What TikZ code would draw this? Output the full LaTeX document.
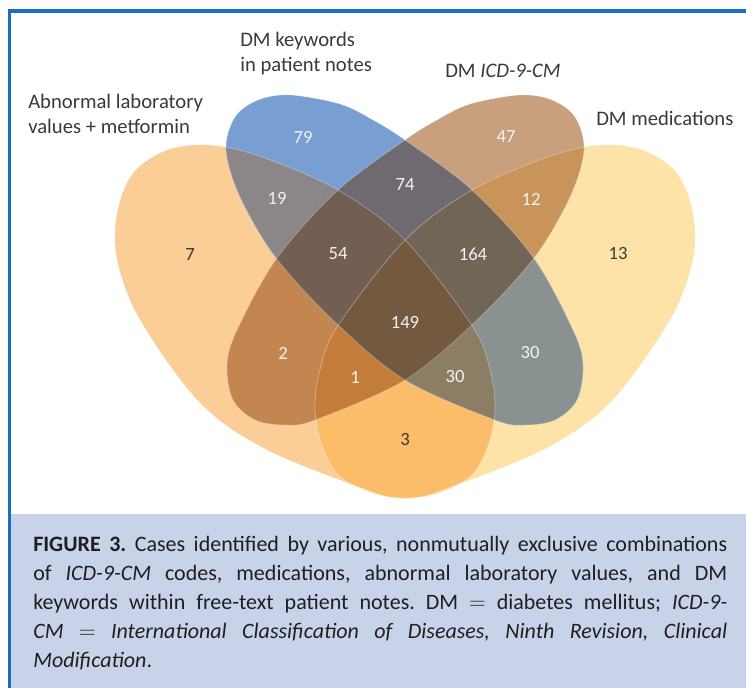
\documentclass[tikz,border=0pt]{standalone}
\usepackage{fontspec}
\setmainfont{Carlito}

\definecolor{frameblue}{HTML}{1670BE}
\definecolor{capblue}{HTML}{C8D3EA}
\definecolor{textgray}{HTML}{3A3A3A}
\definecolor{numwhite}{HTML}{F2F2F2}
% single sets
\definecolor{colA}{HTML}{FBCD97}
\definecolor{colB}{HTML}{799FD2}
\definecolor{colC}{HTML}{C9A07E}
\definecolor{colD}{HTML}{FDE3A8}
% pairs
\definecolor{colAB}{HTML}{8B8687}
\definecolor{colAC}{HTML}{C38651}
\definecolor{colAD}{HTML}{FBBD69}
\definecolor{colBC}{HTML}{6F6971}
\definecolor{colBD}{HTML}{899290}
\definecolor{colCD}{HTML}{C99459}
% triples and all four
\definecolor{colABC}{HTML}{735F52}
\definecolor{colABD}{HTML}{8B7E65}
\definecolor{colACD}{HTML}{C47C3B}
\definecolor{colBCD}{HTML}{716555}
\definecolor{colABCD}{HTML}{73593F}

\tikzset{
  num/.style={text=numwhite, font=\fontsize{14}{14}\selectfont, inner sep=0pt},
  numdark/.style={num, text=textgray},
  setlabel/.style={anchor=north west, align=left, inner sep=0pt, text=textgray,
    font=\fontsize{15.5}{18.5}\selectfont},
  captext/.style={anchor=north west, text width=520.5pt, align=justify, inner sep=0pt,
    text=black!88, font=\fontsize{16.5}{21.75}\selectfont},
  rim/.style={white, opacity=0.35, line width=0.5pt}
}

% the four egg shaped sets (coordinates in pixels)
\def\labshape{plot[smooth cycle, tension=0.55] coordinates {(210,145) (262,157) (338,190) (405,240) (473,327) (490,370) (495,405) (490,440) (472,475) (435,494) (398,498) (367,490) (267,450) (200,403) (140,320) (117,260) (117,213) (133,173) (167,150)}}
\def\kwshape{plot[smooth cycle, tension=0.55] coordinates {(290,95) (340,104) (373,120) (405,140) (472,190) (533,257) (573,330) (583,365) (577,400) (555,420) (525,425) (495,420) (405,380) (335,322) (276,258) (240,197) (226,150) (235,117) (258,100)}}
\def\icdshape{plot[smooth cycle, tension=0.55] coordinates {(520,95) (470,104) (437,120) (405,140) (338,190) (277,258) (237,330) (227,365) (233,400) (255,420) (285,425) (315,420) (405,380) (475,322) (534,258) (570,197) (584,150) (575,117) (552,100)}}
\def\medshape{plot[smooth cycle, tension=0.55] coordinates {(600,145) (548,157) (472,190) (405,240) (337,327) (320,370) (315,405) (320,440) (338,475) (375,494) (412,498) (443,490) (543,450) (610,403) (670,320) (693,260) (693,213) (677,173) (643,150)}}

\begin{document}
\begin{tikzpicture}[x=0.75pt, y=-0.75pt]

    % Fix the page size to the reference
    \useasboundingbox (0,0) rectangle (746,688);

    % Caption background and the blue frame
    \fill[capblue] (11,514) rectangle (746,688);
    \draw[frameblue, line width=2.6pt] (9.5,688) -- (9.5,11) -- (746,11);

    % Single sets
    \fill[colA] \labshape;
    \fill[colD] \medshape;
    \fill[colB] \kwshape;
    \fill[colC] \icdshape;

    % Pairs
    \begin{scope}\clip \labshape; \fill[colAB] \kwshape; \end{scope}
    \begin{scope}\clip \labshape; \fill[colAC] \icdshape; \end{scope}
    \begin{scope}\clip \labshape; \fill[colAD] \medshape; \end{scope}
    \begin{scope}\clip \kwshape; \fill[colBC] \icdshape; \end{scope}
    \begin{scope}\clip \kwshape; \fill[colBD] \medshape; \end{scope}
    \begin{scope}\clip \icdshape; \fill[colCD] \medshape; \end{scope}

    % Triples
    \begin{scope}\clip \labshape; \clip \kwshape; \fill[colABC] \icdshape; \end{scope}
    \begin{scope}\clip \labshape; \clip \kwshape; \fill[colABD] \medshape; \end{scope}
    \begin{scope}\clip \labshape; \clip \icdshape; \fill[colACD] \medshape; \end{scope}
    \begin{scope}\clip \kwshape; \clip \icdshape; \fill[colBCD] \medshape; \end{scope}

    % All four
    \begin{scope}\clip \labshape; \clip \kwshape; \clip \icdshape; \fill[colABCD] \medshape; \end{scope}

    % Faint outlines between the regions
    \draw[rim] \labshape;
    \draw[rim] \kwshape;
    \draw[rim] \icdshape;
    \draw[rim] \medshape;

    % Set labels
    \node[setlabel] (lab) at (28,94) {Abnormal laboratory\\values + metformin};
    \node[setlabel] (kw) at (240,32) {DM keywords\\in patient notes};
    \node[setlabel] (icd) at (445,64) {DM \textit{ICD-9-CM}};
    \node[setlabel] (med) at (596,111) {DM medications};

    % Counts in each region
    \node[numdark] (n7) at (190,255) {7};
    \node[num] (n79) at (303,137) {79};
    \node[num] (n47) at (506,137) {47};
    \node[numdark] (n13) at (618,254) {13};
    \node[num] (n19) at (277,198) {19};
    \node[num] (n74) at (405,185) {74};
    \node[num] (n12) at (531,199) {12};
    \node[num] (n54) at (338,254) {54};
    \node[num] (n164) at (473,254) {164};
    \node[num] (n149) at (405,322) {149};
    \node[num] (n2) at (283,353) {2};
    \node[num] (n30r) at (530,353) {30};
    \node[num] (n1) at (355,377) {1};
    \node[num] (n30b) at (455,377) {30};
    \node[numdark] (n3) at (405,440) {3};

    % Caption
    \node[captext] (cap) at (33,536) {\frenchspacing\tolerance=10000\hbadness=10000
      \textbf{FIGURE 3.} Cases identified by various, nonmutually exclusive combinations\linebreak
      of \textit{ICD-9-CM} codes, medications, abnormal laboratory values, and DM\linebreak
      keywords within free-text patient notes. DM $=$ diabetes mellitus; \textit{ICD-9-}\linebreak
      \textit{CM $=$ International Classification of Diseases, Ninth Revision, Clinical}\linebreak
      \textit{Modification}.};

\end{tikzpicture}
\end{document}
